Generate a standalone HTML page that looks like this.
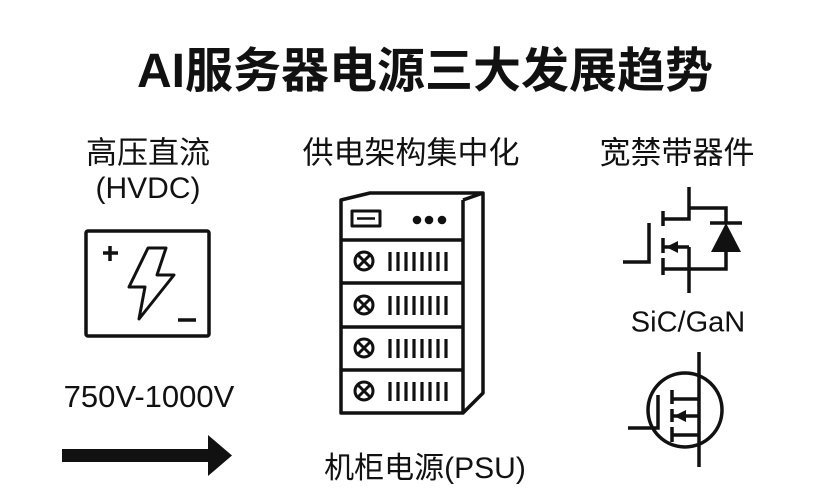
<!DOCTYPE html>
<html><head><meta charset="utf-8"><style>
body{margin:0;width:834px;height:500px;background:#fff;overflow:hidden;font-family:"Liberation Sans","Noto Sans CJK SC",sans-serif;color:#111}
.t{position:absolute;white-space:nowrap;transform:translate(-50%,-50%)}
</style></head><body>
<div class="t" style="left:425px;top:66px;font-size:48px;font-weight:bold">AI服务器电源三大发展趋势</div>
<div class="t" style="left:148px;top:150px;font-size:31px">高压直流</div>
<div class="t" style="left:148px;top:189px;font-size:30px">(HVDC)</div>
<div class="t" style="left:411px;top:150px;font-size:31px">供电架构集中化</div>
<div class="t" style="left:677px;top:150px;font-size:31px">宽禁带器件</div>
<div class="t" style="left:149px;top:397px;font-size:31px">750V-1000V</div>
<div class="t" style="left:688px;top:323px;font-size:29px">SiC/GaN</div>
<div class="t" style="left:425px;top:465px;font-size:30px">机柜电源(PSU)</div>
<svg width="834" height="500" style="position:absolute;left:0;top:0" fill="none" stroke="#111" stroke-width="3.5">
<rect x="86" y="231" width="123" height="105" rx="2"/>
<path d="M103 253h15M110 246v15M178 320h18"/>
<polygon stroke-width="3" stroke-linejoin="round" points="148,248 166,248 157,275 174,275 139,319 145,287 129,287"/>
<rect x="62" y="449" width="148" height="13" fill="#111" stroke="none"/>
<polygon points="208,435 232,455.5 208,476" fill="#111" stroke="none"/>
<g stroke-linejoin="round">
<path d="M341 200L370 193H483V393L463 413H341Z M463 200V413 M463 200L483 193"/>
<path d="M341 240H463M341 283H463M341 327H463M341 370H463"/>
<rect x="352" y="211" width="28" height="15" stroke-width="3"/>
<path d="M357 218.5H375" stroke-width="2.5"/>
</g>
<g fill="#111" stroke="none"><circle cx="417" cy="220" r="4.3"/><circle cx="429" cy="220" r="4.3"/><circle cx="442" cy="220" r="4.3"/></g>
<g stroke-width="3">
<g id="r"><circle cx="364" cy="261" r="9"/><path d="M358 255l12 12M370 255l-12 12"/>
<path d="M390 252v19M398 252v19M406 252v19M414 252v19M422 252v19M430 252v19M438 252v19M446 252v19" stroke-width="3.2"/></g>
<use href="#r" y="44"/><use href="#r" y="87"/><use href="#r" y="130"/>
</g>
<g stroke-width="3.5">
<path d="M689 187V219H663M689 208H726V223M726 252V269H663M623 262H649V223M663 211V226M663 238V253M663 258V275M689 247V293M663 247H689"/>
<polygon points="666,247 678,241 678,253" fill="#111" stroke="none"/>
<polygon points="726,223 711,252 741,252" fill="#111" stroke="none"/>
<path d="M710 223H742"/>
<circle cx="685" cy="410" r="37"/>
<path d="M699 352V467M628 428H658V395M672 390V404M672 409V422M672 427V442M672 399H699M672 416H699M672 435H699"/>
<polygon points="674,416 686,410 686,422" fill="#111" stroke="none"/>
</g>
</svg>
</body></html>
